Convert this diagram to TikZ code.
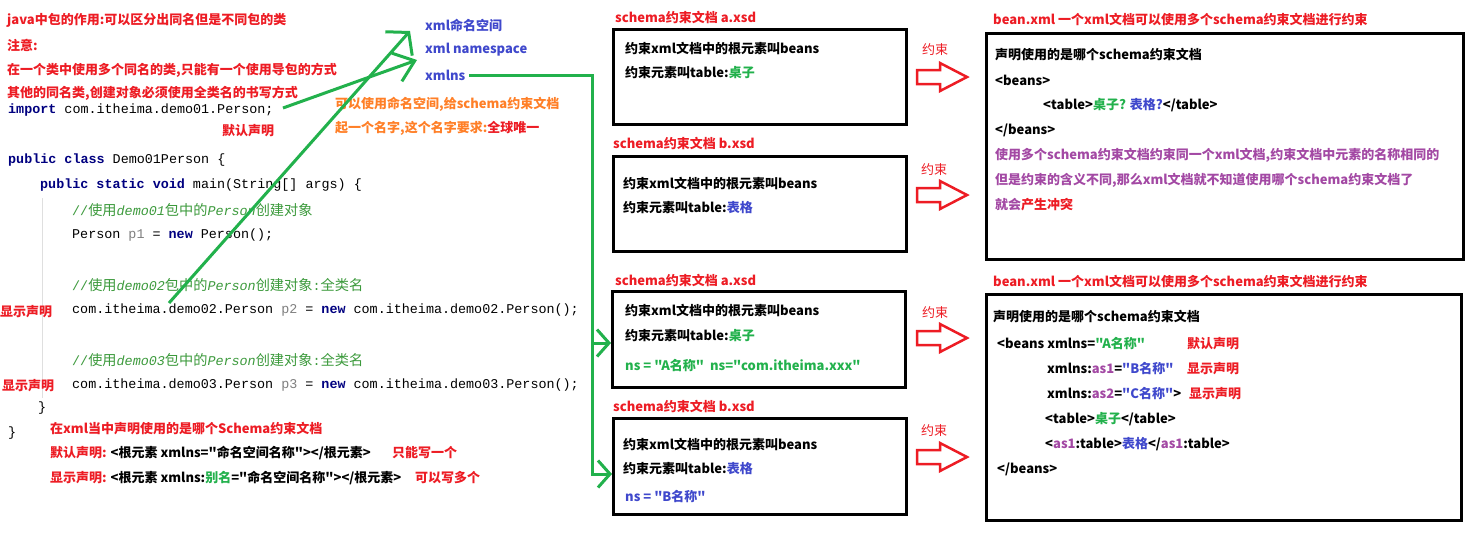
\documentclass[tikz,border=0pt]{standalone}
\usepackage{fontspec}
\setmainfont{Noto Sans CJK SC}
\newfontfamily\cjkmain{Noto Sans CJK SC}
\newfontfamily\codefont{Liberation Mono}
\newfontfamily\cmtcjk{Noto Sans CJK SC}
\usetikzlibrary{arrows.meta}
\definecolor{pred}{HTML}{ED1C24}
\definecolor{pgreen}{HTML}{22B14C}
\definecolor{pblue}{HTML}{3F48CC}
\definecolor{ppurple}{HTML}{A349A4}
\definecolor{porange}{HTML}{FF7F27}
\definecolor{kw}{HTML}{000080}
\definecolor{cm}{HTML}{3C9A3C}
\definecolor{vr}{HTML}{808080}
\newcommand\cmt[1]{{\fontsize{14.2}{16}\selectfont\cmtcjk #1}}
\newcommand\kwd[1]{{\bfseries\color{kw}#1}}
\begin{document}
\begin{tikzpicture}[x=1pt,y=-1pt,
 lbl/.style={anchor=west,inner sep=0pt,font=\fontsize{13}{15}\selectfont\cjkmain\bfseries},
 lblr/.style={anchor=west,inner sep=0pt,font=\fontsize{13}{15}\selectfont\cjkmain,text=pred},
 code/.style={anchor=west,inner sep=0pt,font=\fontsize{13.4}{15}\selectfont\codefont},
 box/.style={draw=black,line width=3pt,anchor=north west,inner sep=0pt},
 gline/.style={draw=pgreen,line width=3pt},
 harrow/.style={draw=pred,line width=2.5pt,fill=white,line join=miter}
]
\useasboundingbox[fill=white] (0,0) rectangle (1484,550);

% ---------- left: notes ----------
\node[lbl,text=pred] (t1) at (7,20) {java中包的作用:可以区分出同名但是不同包的类};
\node[lbl,text=pred] (t2) at (7,45) {注意:};
\node[lbl,text=pred] (t3) at (7,70) {在一个类中使用多个同名的类,只能有一个使用导包的方式};
\node[lbl,text=pred] (t4) at (7,93) {其他的同名类,创建对象必须使用全类名的书写方式};

% ---------- code ----------
\draw[gray!25,line width=0.8pt] (42,198) -- (42,398);
\node[code] (c0) at (8,110) {\kwd{import} com.itheima.demo01.Person;};
\node[lbl,text=pred] (d0) at (222,131) {默认声明};
\node[code] (c1) at (8,160) {\kwd{public class} Demo01Person \{};
\node[code] (c2) at (40,185) {\kwd{public static void} main(String[] args) \{};
\node[code,text=cm] (c3) at (72,210) {//\cmt{使用}{\itshape demo01}\cmt{包中的}{\itshape Person}\cmt{创建对象}};
\node[code] (c4) at (72,235) {Person \textcolor{vr}{p1} = \kwd{new} Person();};
\node[code,text=cm] (c5) at (72,285) {//\cmt{使用}{\itshape demo02}\cmt{包中的}{\itshape Person}\cmt{创建对象}:\cmt{全类名}};
\node[lbl,text=pred] (d1) at (0,312) {显示声明};
\node[code] (c6) at (72,310) {com.itheima.demo02.Person \textcolor{vr}{p2} = \kwd{new} com.itheima.demo02.Person();};
\node[code,text=cm] (c7) at (72,360) {//\cmt{使用}{\itshape demo03}\cmt{包中的}{\itshape Person}\cmt{创建对象}:\cmt{全类名}};
\node[lbl,text=pred] (d2) at (2,386) {显示声明};
\node[code] (c8) at (72,385) {com.itheima.demo03.Person \textcolor{vr}{p3} = \kwd{new} com.itheima.demo03.Person();};
\node[code] (c9) at (38,408) {\}};
\node[code] (c10) at (8,433) {\}};

% ---------- lower-left notes ----------
\node[lbl,text=pred] (e1) at (50,429) {在xml当中声明使用的是哪个Schema约束文档};
\node[lbl] (e2) at (50,453) {\textcolor{pred}{默认声明:} <根元素 xmlns="命名空间名称"></根元素>};
\node[lbl,text=pred] (e3) at (392,453) {只能写一个};
\node[lbl] (e4) at (50,478) {\textcolor{pred}{显示声明:} <根元素 xmlns:\textcolor{pgreen}{别名}="命名空间名称"></根元素>};
\node[lbl,text=pred] (e5) at (415,478) {可以写多个};

% ---------- namespace ----------
\node[lbl,text=pblue] (x1) at (425,25) {xml命名空间};
\node[lbl,text=pblue] (x2) at (425,50) {xml namespace};
\node[lbl,text=pblue] (xmlns) at (425,75) {xmlns};
\node[lbl,text=porange] (o1) at (335,104) {可以使用命名空间,给schema约束文档};
\node[lbl,text=porange] (o2) at (335,128) {起一个名字,这个名字要求:\textcolor{pred}{全球唯一}};

% ---------- schema boxes ----------
\node[lbl,text=pred] (h1) at (615,17) {schema约束文档 a.xsd};
\node[box,minimum width=293pt,minimum height=95pt] (b1) at (612,28) {};
\node[lbl] (b1a) at (625,48) {约束xml文档中的根元素叫beans};
\node[lbl] (b1b) at (625,73) {约束元素叫table:\textcolor{pgreen}{桌子}};

\node[lbl,text=pred] (h2) at (613,143) {schema约束文档 b.xsd};
\node[box,minimum width=293pt,minimum height=95pt] (b2) at (612,155) {};
\node[lbl] (b2a) at (623,183) {约束xml文档中的根元素叫beans};
\node[lbl] (b2b) at (623,208) {约束元素叫table:\textcolor{pblue}{表格}};

\node[lbl,text=pred] (h3) at (615,280) {schema约束文档 a.xsd};
\node[box,minimum width=293pt,minimum height=96pt] (b3) at (611,290) {};
\node[lbl] (b3a) at (625,310) {约束xml文档中的根元素叫beans};
\node[lbl] (b3b) at (625,336) {约束元素叫table:\textcolor{pgreen}{桌子}};
\node[lbl,text=pgreen] (b3c) at (625,366) {ns = "A名称"\ \ ns="com.itheima.xxx"};

\node[lbl,text=pred] (h4) at (613,406) {schema约束文档 b.xsd};
\node[box,minimum width=293pt,minimum height=96pt] (b4) at (612,417) {};
\node[lbl] (b4a) at (623,444) {约束xml文档中的根元素叫beans};
\node[lbl] (b4b) at (623,469) {约束元素叫table:\textcolor{pblue}{表格}};
\node[lbl,text=pblue] (b4c) at (625,497) {ns = "B名称"};

% ---------- constraint arrows ----------
\node[lblr] (r1) at (922,50) {约束};
\node[lblr] (r2) at (921,170) {约束};
\node[lblr] (r3) at (922,313) {约束};
\node[lblr] (r4) at (921,431) {约束};
\foreach \c in {77,195,338,457}
  \draw[harrow] (917,\c-7) -- (940,\c-7) -- (940,\c-14) -- (967,\c) -- (940,\c+14) -- (940,\c+7) -- (917,\c+7) -- cycle;

% ---------- right boxes ----------
\node[lbl,text=pred] (k1) at (993,20) {bean.xml 一个xml文档可以使用多个schema约束文档进行约束};
\node[box,minimum width=477pt,minimum height=226pt] (B1) at (985,32) {};
\node[lbl] (B1a) at (995,55) {声明使用的是哪个schema约束文档};
\node[lbl] (B1b) at (995,80) {<beans>};
\node[lbl] (B1c) at (1043,105) {<table>\textcolor{pgreen}{桌子?} \textcolor{pblue}{表格?}</table>};
\node[lbl] (B1d) at (995,130) {</beans>};
\node[lbl,text=ppurple] (B1e) at (995,155) {使用多个schema约束文档约束同一个xml文档,约束文档中元素的名称相同的};
\node[lbl,text=ppurple] (B1f) at (995,180) {但是约束的含义不同,那么xml文档就不知道使用哪个schema约束文档了};
\node[lbl,text=ppurple] (B1g) at (995,205) {就会\textcolor{pred}{产生冲突}};

\node[lbl,text=pred] (k2) at (993,282) {bean.xml 一个xml文档可以使用多个schema约束文档进行约束};
\node[box,minimum width=475pt,minimum height=226pt] (B2) at (985,293) {};
\node[lbl] (B2a) at (993,317) {声明使用的是哪个schema约束文档};
\node[lbl] (B2b) at (997,344) {<beans xmlns=\textcolor{pgreen}{"A名称"}};
\node[lbl,text=pred] (B2bn) at (1187,344) {默认声明};
\node[lbl] (B2c) at (1047,369) {xmlns:\textcolor{ppurple}{as1}=\textcolor{pblue}{"B名称"}};
\node[lbl,text=pred] (B2cn) at (1187,369) {显示声明};
\node[lbl] (B2d) at (1047,394) {xmlns:\textcolor{ppurple}{as2}=\textcolor{pblue}{"C名称"}>};
\node[lbl,text=pred] (B2dn) at (1189,394) {显示声明};
\node[lbl] (B2e) at (1045,419) {<table>\textcolor{pgreen}{桌子}</table>};
\node[lbl] (B2f) at (1045,444) {<\textcolor{ppurple}{as1}:table>\textcolor{pblue}{表格}</\textcolor{ppurple}{as1}:table>};
\node[lbl] (B2g) at (997,469) {</beans>};

% ---------- green connectors ----------
\coordinate (s1) at (169,303);
\coordinate (a1) at (410,31);
\coordinate (s2) at (283,108);
\coordinate (a2) at (417,60);
\draw[gline,-{Straight Barb[length=15pt,width=36pt]}] (s1) -- (a1);
\draw[gline,-{Straight Barb[length=19pt,width=30pt]}] (s2) -- (a2);
\coordinate (j1) at (592,343);
\coordinate (j2) at (592,474);
\draw[gline,-{Straight Barb[length=12pt,width=27pt]}] ([xshift=4pt]xmlns.east) -| (j2) -- (b4.west |- j2);
\draw[gline,-{Straight Barb[length=12pt,width=27pt]}] (j1) -- (b3.west |- j1);
\end{tikzpicture}
\end{document}
